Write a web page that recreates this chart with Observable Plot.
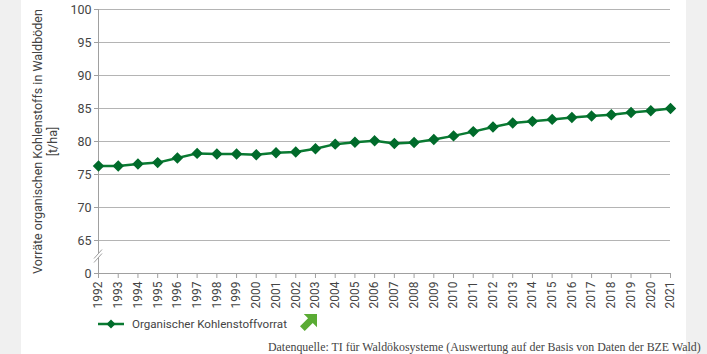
<!DOCTYPE html>
<html><head><meta charset="utf-8">
<script src="https://cdn.jsdelivr.net/npm/d3@7"></script>
<script src="https://cdn.jsdelivr.net/npm/@observablehq/plot@0.6"></script>
<style>
html,body{margin:0;padding:0;}
body{width:707px;height:354px;overflow:hidden;background:#fff;font-family:Roboto,"Noto Sans",sans-serif;}
#wrap{position:relative;width:707px;height:354px;background:#fff;}
.strip{position:absolute;top:0;height:354px;background:#f0f0f0;}
#chart{position:absolute;left:0;top:0;}
#legend{position:absolute;left:98px;top:316px;display:flex;align-items:center;font-size:11.6px;color:#444;}
#source{position:absolute;left:268px;top:340px;font-family:"Liberation Serif","DejaVu Serif",serif;font-size:11.9px;color:#444;white-space:nowrap;}
</style></head>
<body>
<div id="wrap">
  <div class="strip" style="left:0;width:21px"></div>
  <div class="strip" style="left:686px;width:21px"></div>
  <div id="chart"></div>
  <div id="legend"></div>
  <div id="source"></div>
</div>
<script>
const years = [1992,1993,1994,1995,1996,1997,1998,1999,2000,2001,2002,2003,2004,2005,2006,2007,2008,2009,2010,2011,2012,2013,2014,2015,2016,2017,2018,2019,2020,2021];
const values = [76.3,76.3,76.6,76.8,77.5,78.2,78.1,78.1,78.0,78.3,78.4,78.9,79.6,79.9,80.1,79.7,79.85,80.3,80.85,81.5,82.2,82.8,83.05,83.35,83.65,83.85,84.05,84.4,84.65,85.0];
const yTicks = [60,65,70,75,80,85,90,95,100];
const yTickLabels = ["0","65","70","75","80","85","90","95","100"];
const gridValues = [65,70,75,80,85,90,95,100];
const axisBreak = [62.5];
const seriesName = "Organischer Kohlenstoffvorrat";
const yTitle = "Vorräte organischen Kohlenstoffs in Waldböden\n[t/ha]";
const sourceText = "Datenquelle: TI für Waldökosysteme (Auswertung auf der Basis von Daten der BZE Wald)";

const data = years.map((y,i)=>({year:y, value:values[i]}));
const lineColor = "#0a7a32";
const gridColor = "#b4b4b4";
const axisColor = "#a0a0a0";

const breakMark = (index, scales) => {
  const g = d3.create("svg:g");
  const x0 = scales.x(years[0]);
  for (const b of axisBreak) {
    const yb = scales.y(b);
    g.append("path").attr("d", `M${x0-4},${yb+6}L${x0+4},${yb-3}L${x0+4},${yb-7}L${x0-4},${yb+2}Z`).attr("fill","white");
    g.append("line").attr("x1",x0-4).attr("y1",yb+2).attr("x2",x0+4).attr("y2",yb-7).attr("stroke",axisColor);
    g.append("line").attr("x1",x0-4).attr("y1",yb+6).attr("x2",x0+4).attr("y2",yb-3).attr("stroke",axisColor);
  }
  return g.node();
};

const chart = Plot.plot({
  width: 707,
  height: 310,
  marginLeft: 98,
  marginRight: 37,
  marginTop: 9,
  marginBottom: 37,
  style: {fontFamily: "Roboto, 'Noto Sans', sans-serif", fontSize: "11.5px", color: "#444", background: "transparent"},
  x: {domain: [years[0], years[years.length-1]], label: null},
  y: {domain: [60, 100], label: null},
  marks: [
    Plot.ruleY(gridValues, {stroke: gridColor, strokeWidth: 1}),
    Plot.ruleY([60], {stroke: axisColor}),
    Plot.ruleX([years[0]], {y1: 60, y2: 100, stroke: axisColor}),
    breakMark,
    Plot.axisX({ticks: years, tickFormat: d => String(d), tickRotate: -90, tickSize: 5, tickPadding: 3, stroke: axisColor, color: "#444", fontSize: 12, label: null}),
    Plot.axisY({ticks: yTicks, tickFormat: d => yTickLabels[yTicks.indexOf(d)], tickSize: 4, tickPadding: 3, stroke: axisColor, color: "#444", fontSize: 12.5, label: null}),
    Plot.line(data, {x: "year", y: "value", stroke: lineColor, strokeWidth: 2.5}),
    Plot.dot(data, {x: "year", y: "value", symbol: "diamond2", fill: "#006b2b", stroke: "#006b2b", r: 4.2}),
    Plot.text([yTitle], {frameAnchor: "left", rotate: -90, dx: -54, textAnchor: "middle", lineAnchor: "middle", lineHeight: 1.25, fill: "#444", fontSize: 12.5})
  ]
});
document.getElementById("chart").appendChild(chart);

document.getElementById("legend").innerHTML =
  `<svg width="26" height="12" style="margin-right:8px"><line x1="0" y1="6" x2="26" y2="6" stroke="${lineColor}" stroke-width="2.5"/><path d="M13,1.5L17.5,6L13,10.5L8.5,6Z" fill="#006b2b"/></svg>` +
  `<span>${seriesName}</span>` +
  `<svg width="17" height="17" viewBox="0 0 18 18" style="margin-left:13px;margin-top:-2px"><path d="M4,0L18,0L18,14L13.5,9.5L5,18L0,13L8.5,4.5Z" fill="#5aab34"/></svg>`;
document.getElementById("source").textContent = sourceText;
</script>
</body></html>
